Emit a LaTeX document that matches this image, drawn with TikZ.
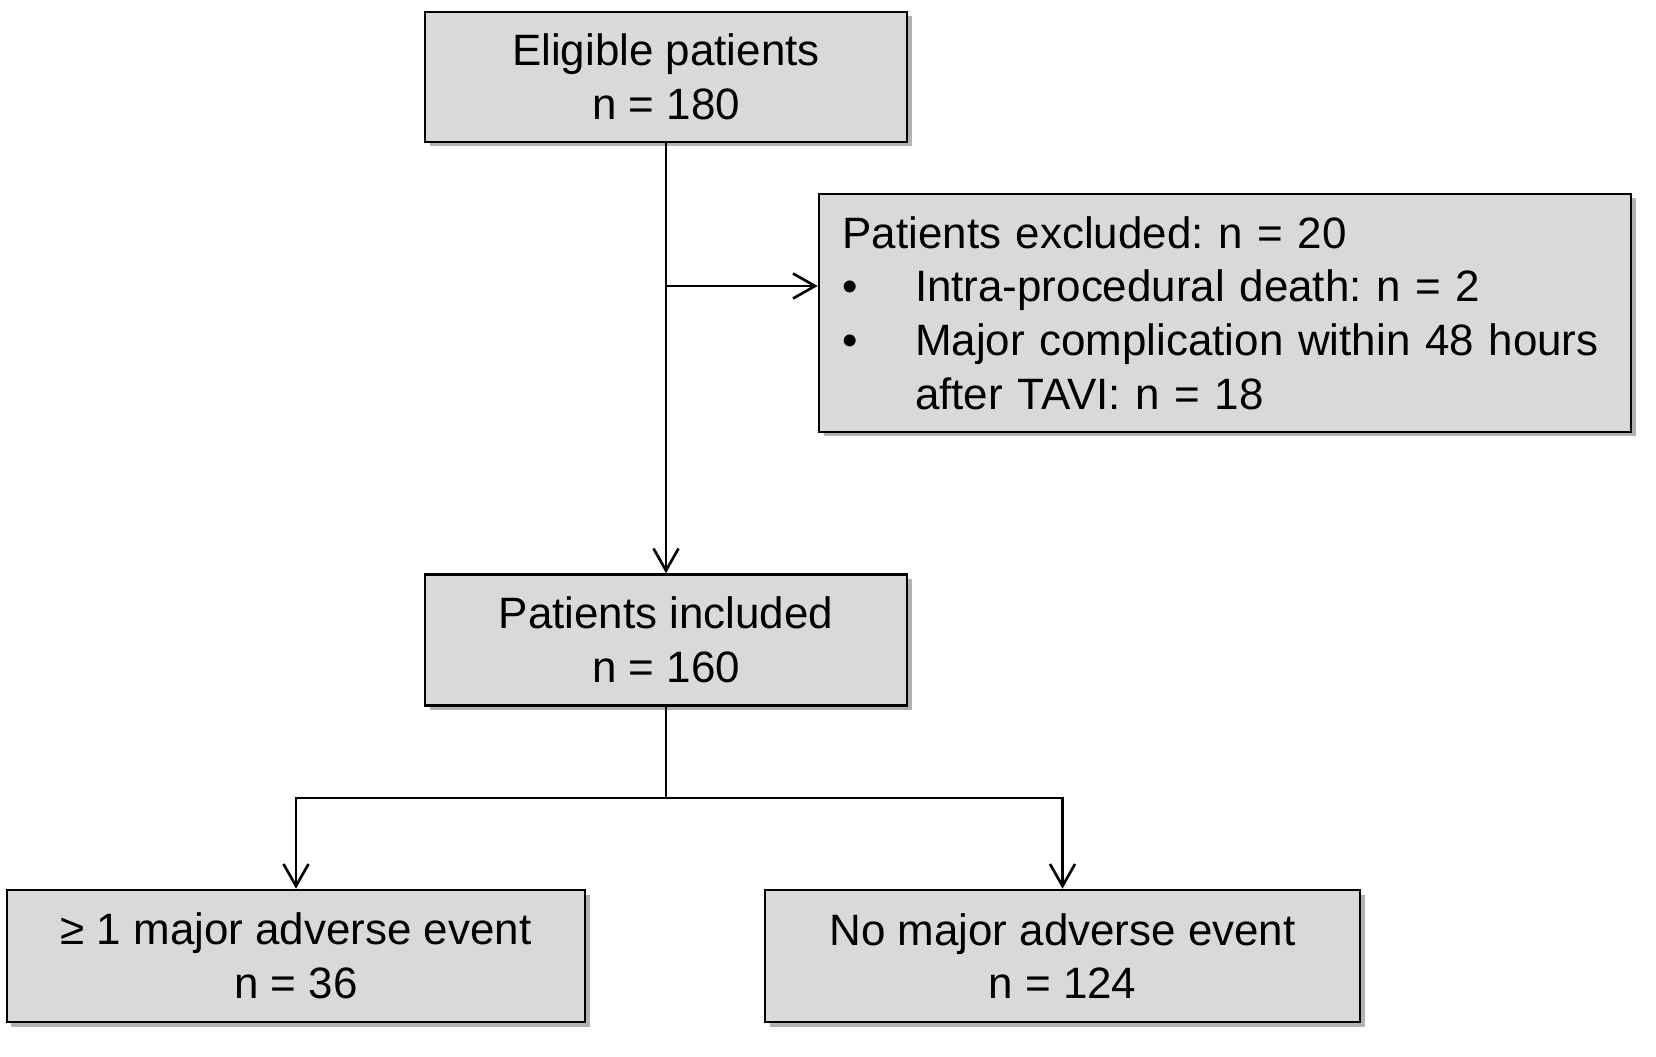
\documentclass[tikz,border=0pt]{standalone}
\usepackage{fontspec}
\setmainfont{Liberation Sans}
\usepackage{tikz}
\usetikzlibrary{shapes, arrows.meta, calc, positioning, shadows}

\definecolor{boxgray}{RGB}{217,217,217}
\frenchspacing

\begin{document}
\begin{tikzpicture}[>={Straight Barb[length=0.44cm, width=0.5cm]}, line width=1.5pt]
    \tikzstyle{box} = [draw, line width=1.5pt, rectangle, fill=boxgray,
	inner sep=0pt, align=center, font=\fontsize{25}{30.5}\selectfont,
	drop shadow={shadow xshift=0.09cm, shadow yshift=-0.09cm,
	opacity=0.3, fill=black}]

	\useasboundingbox (0,0) rectangle (33.12,-21.14);

	\node[box, minimum width=9.64cm, minimum height=2.6cm] (elig)
		at (13.32,-1.54) {Eligible patients\\n = 180};
	\node[box, minimum width=9.64cm, minimum height=2.62cm] (incl)
		at (13.32,-12.8) {Patients included\\n = 160};
	\node[box, minimum width=16.24cm, minimum height=4.76cm,
		inner xsep=0.46cm, text width=15.3cm, align=left] (excl)
		at (24.5,-6.26)
		{Patients excluded: n = 20\\
		\makebox[1.45cm][l]{•}Intra-procedural death: n = 2\\
		\makebox[1.45cm][l]{•}Major complication within 48 hours\\
		\hspace*{1.45cm}after TAVI: n = 18};
	\node[box, minimum width=11.56cm, minimum height=2.64cm] (major)
		at (5.92,-19.12) {≥ 1 major adverse event\\n = 36};
	\node[box, minimum width=11.9cm, minimum height=2.64cm] (nomajor)
		at (21.25,-19.12) {No major adverse event\\n = 124};

	\coordinate (branch) at (13.32,-5.72);
	\coordinate (split) at (13.32,-15.96);

	\draw[->] (elig) -- (incl);
	\draw[->] (branch) -- (branch -| excl.west);
	\draw (incl.south) -- (split);
	\draw[->] (split) -| (major.north);
	\draw[->] (split) -| (nomajor.north);
\end{tikzpicture}
\end{document}
